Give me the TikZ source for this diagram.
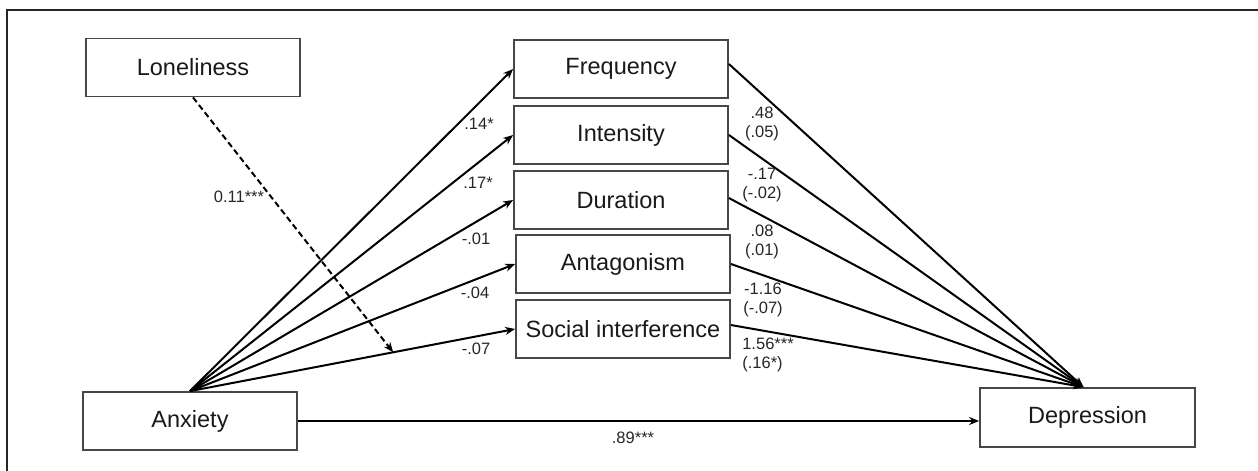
\documentclass[tikz,border=0pt]{standalone}
\usepackage{fontspec}
\setmainfont{Liberation Sans}
\usetikzlibrary{arrows.meta,calc}
\tikzset{
  box/.style={draw=black!72, line width=1.8pt, minimum width=214pt, minimum height=58pt, inner sep=0pt, font=\fontsize{23.5}{27}\selectfont, text=black!90},
  conn/.style={line width=2pt, -{Stealth[length=10pt,width=8pt]}},
  lbl/.style={font=\fontsize{16.5}{19.5}\selectfont, text=black!85, align=center, inner sep=0pt},
  frame/.style={line width=2pt, draw=black!85}
}
\begin{document}
\begin{tikzpicture}[x=1pt,y=-1pt]
\useasboundingbox (0,0) rectangle (1258,471);
\draw[frame] (7,471) -- (7,10) -- (1258,10);
% nodes
\node[box] (lon) at (193,67.5) {Loneliness};
\node[box] (anx) at (190,421) {Anxiety};
\node[box] (fre) at (621,69) {Frequency};
\node[box] (int) at (621,135) {Intensity};
\node[box] (dur) at (621,200) {Duration};
\node[box] (ant) at (623,264) {Antagonism};
\node[box] (soc) at (623,329) {Social interference};
\node[box, minimum width=215pt, minimum height=59pt] (dep) at (1087.5,417.5) {Depression};
% anxiety to mediators
\draw[conn] (anx.north) -- (fre.west);
\draw[conn] (anx.north) -- (int.west);
\draw[conn] (anx.north) -- (dur.west);
\draw[conn] (anx.north) -- (ant.west);
\draw[conn] (anx.north) -- (soc.west);
% mediators to depression
\coordinate (dtip) at ($(dep.north)+(-4,0)$);
\draw[conn] ([yshift=5pt]fre.east) -- (dtip);
\draw[conn] (int.east) -- (dtip);
\draw[conn] ([yshift=2pt]dur.east) -- (dtip);
\draw[conn] (ant.east) -- (dtip);
\draw[conn] ([yshift=4pt]soc.east) -- (dtip);
% direct
\draw[conn] (anx.east) -- (anx.east -| dep.west);
% moderation
\coordinate (mod) at ($(anx.north)!0.625!(soc.west)$);
\draw[line width=2pt, dash pattern=on 6pt off 3.5pt, -{Stealth[length=10pt,width=8pt]}] (lon.south) -- (mod);
% labels
\node[lbl] (l0) at (239,197) {0.11***};
\node[lbl] (l1) at (479,124) {.14*};
\node[lbl] (l2) at (478,183) {.17*};
\node[lbl] (l3) at (476,239) {-.01};
\node[lbl] (l4) at (475,293) {-.04};
\node[lbl] (l5) at (476,349) {-.07};
\node[lbl] (r1) at (762,124) {.48\\(.05)};
\node[lbl] (r2) at (762,185) {-.17\\(-.02)};
\node[lbl] (r3) at (762,242) {.08\\(.01)};
\node[lbl] (r4) at (763,300) {-1.16\\(-.07)};
\node[lbl, align=left] (r5) at (768,355) {1.56***\\(.16*)};
\node[lbl] (dl) at (633,438) {.89***};
\end{tikzpicture}
\end{document}
